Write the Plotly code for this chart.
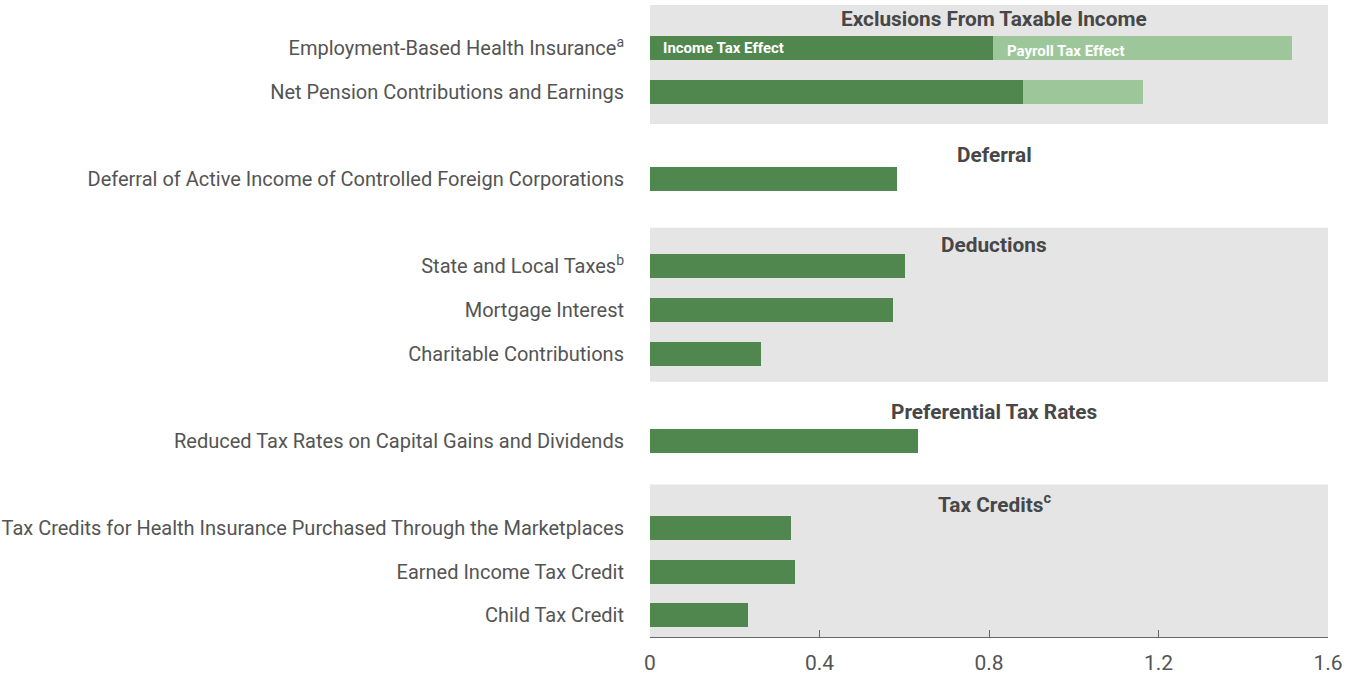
import plotly.graph_objects as go

# ---------------- data ----------------
groups = [
    "Exclusions From Taxable Income",
    "Deferral",
    "Deductions",
    "Preferential Tax Rates",
    "Tax Credits<sup>c</sup>",
]
group_items = [
    ["Employment-Based Health Insurance<sup>a</sup>", "Net Pension Contributions and Earnings"],
    ["Deferral of Active Income of Controlled Foreign Corporations"],
    ["State and Local Taxes<sup>b</sup>", "Mortgage Interest", "Charitable Contributions"],
    ["Reduced Tax Rates on Capital Gains and Dividends"],
    ["Tax Credits for Health Insurance Purchased Through the Marketplaces",
     "Earned Income Tax Credit", "Child Tax Credit"],
]
income_tax_effect = [
    [0.81, 0.88],
    [0.583],
    [0.602, 0.573, 0.262],
    [0.632],
    [0.333, 0.342, 0.231],
]
payroll_tax_effect = [
    [0.704, 0.283],
    [0.0],
    [0.0, 0.0, 0.0],
    [0.0],
    [0.0, 0.0, 0.0],
]
shaded_groups = [True, False, True, False, True]
x_ticks = [0, 0.4, 0.8, 1.2, 1.6]
x_tick_labels = ["0", "0.4", "0.8", "1.2", "1.6"]

# ---------------- styling ----------------
DARK = "#4f874f"
LIGHT = "#9dc79b"
PANEL = "#e5e5e5"
TEXT = "#545454"
FONT = "Roboto"
panel_pad_top = [1.0, 0, 0.883, 0, 0.995]
panel_pad_bot = [0.734, 0, 0.645, 0, 0.6]
heading_offset = [-0.67, -0.55, -0.5, -0.65, -0.58]

# row positions: one slot per item, one blank slot between groups
y_pos, labels, inc_vals, pay_vals = [], [], [], []
group_span = []
slot = 0
for gi, items in enumerate(group_items):
    if gi > 0:
        slot += 1
    first = slot
    for it, iv, pv in zip(items, income_tax_effect[gi], payroll_tax_effect[gi]):
        y_pos.append(slot)
        labels.append(it)
        inc_vals.append(iv)
        pay_vals.append(pv)
        slot += 1
    group_span.append((first, slot - 1))

y_top = -0.992
y_bot = slot - 1 + 0.5

fig = go.Figure()
fig.add_trace(go.Bar(y=y_pos, x=inc_vals, orientation="h", marker_color=DARK,
                     marker_line_width=0, name="Income Tax Effect", width=0.55))
fig.add_trace(go.Bar(y=y_pos, x=pay_vals, orientation="h", marker_color=LIGHT,
                     marker_line_width=0, name="Payroll Tax Effect", width=0.55))

shapes = []
annotations = []
for gi, (first, last) in enumerate(group_span):
    if shaded_groups[gi]:
        shapes.append(dict(type="rect", xref="paper", yref="y", x0=0, x1=1,
                           y0=max(first - panel_pad_top[gi], y_top),
                           y1=min(last + panel_pad_bot[gi], y_bot),
                           fillcolor=PANEL, line_width=0, layer="below"))
    annotations.append(dict(text="<b>" + groups[gi] + "</b>", xref="paper", yref="y",
                            x=0.508, y=first + heading_offset[gi], showarrow=False,
                            xanchor="center", yanchor="middle",
                            font=dict(family=FONT, size=20.8, color="#474747")))

# in-bar legend labels
annotations.append(dict(text="<b>Income Tax Effect</b>", xref="x", yref="y",
                        x=0.026, y=y_pos[0], showarrow=False, xanchor="left",
                        yanchor="middle", font=dict(family=FONT, size=15, color="white")))
annotations.append(dict(text="<b>Payroll Tax Effect</b>", xref="x", yref="y",
                        x=inc_vals[0] + 0.027, y=y_pos[0], yshift=-3, showarrow=False,
                        xanchor="left", yanchor="middle",
                        font=dict(family=FONT, size=15, color="white")))

fig.update_layout(
    width=1352, height=678,
    barmode="stack",
    showlegend=False,
    hovermode=False,
    paper_bgcolor="white", plot_bgcolor="white",
    margin=dict(l=650, r=24, t=5, b=41),
    font=dict(family=FONT, size=20, color=TEXT),
    shapes=shapes,
    annotations=annotations,
    xaxis=dict(range=[0, 1.6], tickvals=x_ticks, ticktext=x_tick_labels,
               showgrid=False, zeroline=False, showline=True, linecolor="#666666",
               linewidth=1, ticks="inside", ticklen=7, tickcolor="#666666",
               ticklabelstandoff=7, automargin=False,
               tickfont=dict(family=FONT, size=21, color=TEXT)),
    yaxis=dict(range=[y_bot, y_top], tickvals=y_pos, ticktext=labels,
               showgrid=False, zeroline=False, showline=False,
               ticks="", ticklabelstandoff=25, automargin=False,
               tickfont=dict(family=FONT, size=20, color=TEXT)),
)

fig.write_html("out.html", config={"displayModeBar": False},
               post_script="document.body.style.margin='0';")
